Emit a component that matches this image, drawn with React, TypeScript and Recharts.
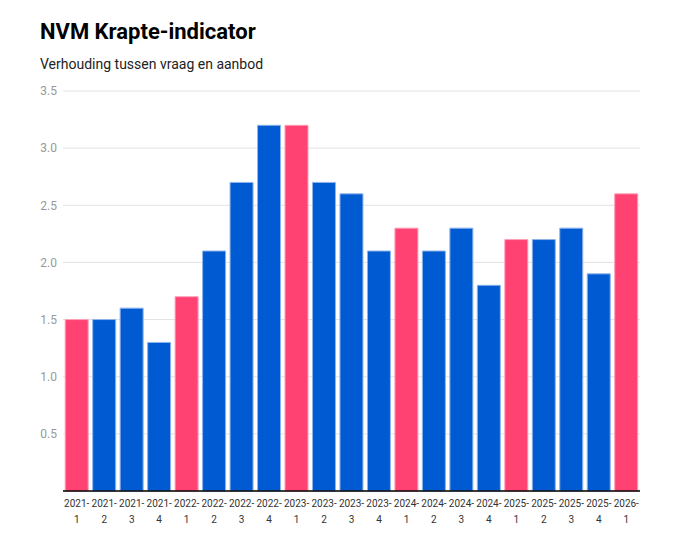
import { BarChart, Bar, XAxis, YAxis, CartesianGrid, Cell } from 'recharts';

const quarters = [
  '2021-1', '2021-2', '2021-3', '2021-4',
  '2022-1', '2022-2', '2022-3', '2022-4',
  '2023-1', '2023-2', '2023-3', '2023-4',
  '2024-1', '2024-2', '2024-3', '2024-4',
  '2025-1', '2025-2', '2025-3', '2025-4',
  '2026-1',
];
const ratio = [1.5, 1.5, 1.6, 1.3, 1.7, 2.1, 2.7, 3.2, 3.2, 2.7, 2.6, 2.1, 2.3, 2.1, 2.3, 1.8, 2.2, 2.2, 2.3, 1.9, 2.6];
const yTicks = [0, 0.5, 1.0, 1.5, 2.0, 2.5, 3.0, 3.5];

const PINK = '#ff4272';
const BLUE = '#005bd3';

const data = quarters.map((q, i) => ({ q, value: ratio[i] }));

const QuarterTick = ({ x, y, payload }: any) => {
  const [year, qtr] = String(payload.value).split('-');
  return (
    <g transform={`translate(${x},${y})`}>
      <text x={0} y={0} textAnchor="middle" fill="#333" fontSize={10} fontFamily="Roboto">
        <tspan x={0} dy={8}>{year}-</tspan>
        <tspan x={0} dy={16}>{qtr}</tspan>
      </text>
    </g>
  );
};

export default function App() {
  return (
    <div style={{ position: 'absolute', left: 0, top: 0, width: 694, height: 558, background: '#fff', fontFamily: 'Roboto' }}>
      <div style={{ position: 'absolute', left: 40, top: 19, fontSize: 22, fontWeight: 700, color: '#000' }}>
        NVM Krapte-indicator
      </div>
      <div style={{ position: 'absolute', left: 40, top: 56, fontSize: 14, color: '#222' }}>
        Verhouding tussen vraag en aanbod
      </div>
      <BarChart
        width={694}
        height={558}
        data={data}
        margin={{ top: 91, right: 54, bottom: 27, left: 0 }}
        barCategoryGap="8%"
      >
        <CartesianGrid vertical={false} stroke="#e2e2e2" />
        <XAxis
          dataKey="q"
          interval={0}
          height={40}
          tickLine={false}
          axisLine={{ stroke: '#000', strokeWidth: 1.5 }}
          tick={<QuarterTick />}
        />
        <YAxis
          width={63}
          domain={[0, 3.5]}
          ticks={yTicks}
          tickFormatter={(v: number) => (v === 0 ? '' : v.toFixed(1))}
          tickLine={false}
          axisLine={false}
          tickSize={0}
          tickMargin={6}
          tick={{ fill: '#999', fontSize: 12, fontFamily: 'Roboto' }}
        />
        <Bar dataKey="value" isAnimationActive={false}>
          {data.map((d) => {
            const first = d.q.endsWith('-1');
            return (
              <Cell
                key={d.q}
                fill={first ? PINK : BLUE}
                stroke={first ? '#ff9fb6' : '#8fb4ea'}
                strokeWidth={1}
              />
            );
          })}
        </Bar>
      </BarChart>
    </div>
  );
}
